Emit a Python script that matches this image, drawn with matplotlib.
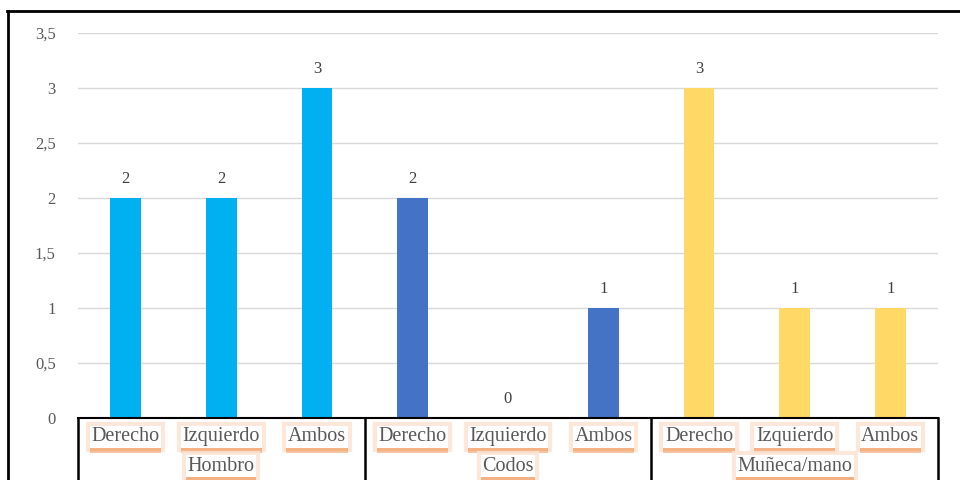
import matplotlib
matplotlib.use("Agg")
import matplotlib.pyplot as plt
from matplotlib.lines import Line2D
import matplotlib.patheffects as pe

groups = ["Hombro", "Codos", "Muñeca/mano"]
categories = ["Derecho", "Izquierdo", "Ambos"]
values = [[2, 2, 3], [2, 0, 1], [3, 1, 1]]
colors = ["#00B0F0", "#4472C4", "#FFD966"]
yticks = [0, 0.5, 1, 1.5, 2, 2.5, 3, 3.5]
ytick_labels = ["0", "0,5", "1", "1,5", "2", "2,5", "3", "3,5"]

serif = ["Liberation Serif", "DejaVu Serif"]
txt_color = "#595959"

fig = plt.figure(figsize=(9.6, 4.8), dpi=100)
ax = fig.add_axes([78/960, 1-418/480, 860/960, 385/480])

ncat = len(categories)
x = 0
xpos = []
for gi, (g, vals) in enumerate(zip(groups, values)):
    for ci, v in enumerate(vals):
        ax.bar(x, v, width=0.32, color=colors[gi], zorder=3)
        ax.annotate(str(v), (x, v), xytext=(0, 8), textcoords="offset points",
                    ha="center", va="bottom", fontsize=12, family=serif, color="#404040")
        xpos.append(x)
        x += 1

n = len(xpos)
ax.set_xlim(-0.5, n - 0.5)
ax.set_ylim(0, 3.5)
ax.set_yticks(yticks)
ax.set_yticklabels(ytick_labels, family=serif, fontsize=12, color=txt_color)
ax.tick_params(axis="y", length=0, pad=16)
ax.set_xticks([])
ax.grid(axis="y", color="#d9d9d9", linewidth=1, zorder=0)
for s in ["left", "right", "top"]:
    ax.spines[s].set_visible(False)
ax.spines["bottom"].set_color("black")
ax.spines["bottom"].set_linewidth(1.5)
ax.spines["bottom"].set_zorder(4)

trans = ax.get_xaxis_transform()
# group separators
for gi in range(len(groups) + 1):
    xs = gi * ncat - 0.5
    ax.plot([xs, xs], [0, -0.2], transform=trans, color="black", lw=1.8, clip_on=False)

def boxed(xv, yv, s):
    t = ax.text(xv, yv, s, transform=trans, ha="center", va="center",
                family=serif, fontsize=14.5, color=txt_color,
                bbox=dict(boxstyle="square,pad=0.08", fc="white", ec="none"))
    t.get_bbox_patch().set_path_effects([
        pe.Stroke(linewidth=6, foreground="#FBE3D3", alpha=0.8),
        pe.SimplePatchShadow(offset=(0, -3.5), shadow_rgbFace="#F4B183", alpha=0.7),
        pe.withSimplePatchShadow(offset=(0, -2), shadow_rgbFace="#F4B183", alpha=0.95)])
    return t

for i, xv in enumerate(xpos):
    boxed(xv, -0.049, categories[i % ncat])
for gi, g in enumerate(groups):
    boxed(gi * ncat + (ncat - 1) / 2, -0.125, g)

# outer frame (partial)
fig.add_artist(Line2D([7/960, 1], [1-11/480, 1-11/480], color="black", lw=2))
fig.add_artist(Line2D([8/960, 8/960], [0, 1-11/480], color="black", lw=2))

fig.savefig("out.png", dpi=100, facecolor="white")
